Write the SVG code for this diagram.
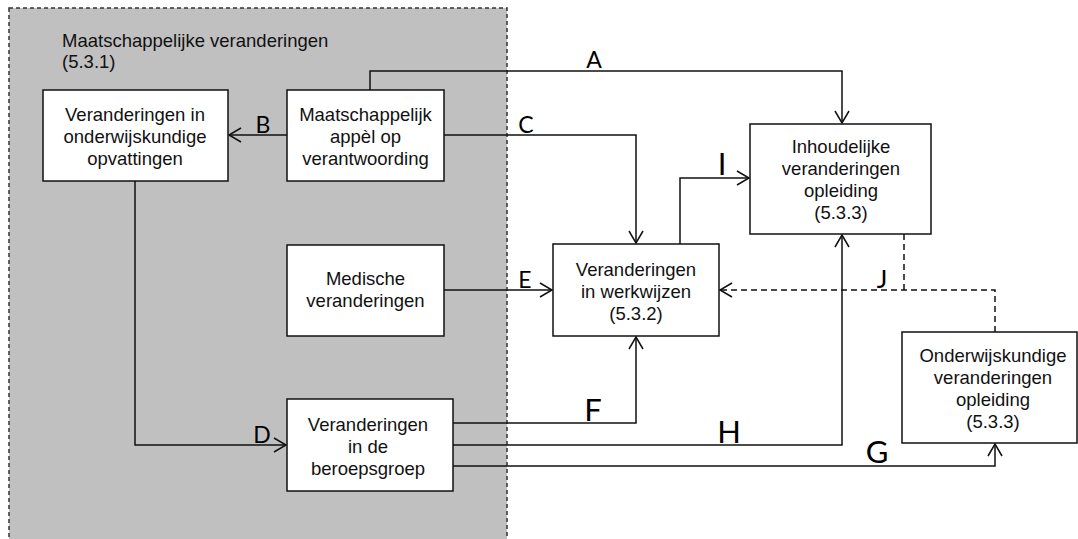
<svg xmlns="http://www.w3.org/2000/svg" width="1078" height="539" viewBox="0 0 1078 539">
<defs>
<style>
.box{fill:#fff;stroke:#111;stroke-width:1.5}
.t{font-family:"Liberation Sans",Arial,sans-serif;font-size:18.5px;fill:#111;text-anchor:middle}
.title{font-family:"Liberation Sans",Arial,sans-serif;font-size:18.5px;fill:#111}
.c{fill:none;stroke:#111;stroke-width:1.5}
.d{fill:none;stroke:#111;stroke-width:1.5;stroke-dasharray:6 4}
.lbl{font-family:Lato,"Open Sans",sans-serif;fill:#000;text-anchor:middle}
.s{font-size:23px}
.l{font-size:31px}
.m{font-size:25px}
</style>
<marker id="arr" markerUnits="userSpaceOnUse" markerWidth="16" markerHeight="18" refX="14" refY="9" orient="auto" viewBox="0 0 16 18">
<path d="M2,2 L14,9 L2,16" fill="none" stroke="#111" stroke-width="1.5"/>
</marker>
</defs>
<rect width="1078" height="539" fill="#fff"/>
<g id="group-maatschappelijk">
<rect x="9" y="8" width="498" height="540" fill="#c0c0c0" stroke="#333" stroke-width="1.5" stroke-dasharray="4 3"/>
<text class="title" x="62" y="47">Maatschappelijke veranderingen</text>
<text class="title" x="62" y="68">(5.3.1)</text>
</g>
<g id="connectors">
<path class="c" d="M370,90 V71 H842 V123" marker-end="url(#arr)"/>
<path class="c" d="M287,135 H229" marker-end="url(#arr)"/>
<path class="c" d="M444,135 H636 V243" marker-end="url(#arr)"/>
<path class="c" d="M135,181 V445 H286" marker-end="url(#arr)"/>
<path class="c" d="M444,290 H552" marker-end="url(#arr)"/>
<path class="c" d="M453,423 H636 V337" marker-end="url(#arr)"/>
<path class="c" d="M453,466 H995 V444" marker-end="url(#arr)"/>
<path class="c" d="M453,445 H842 V235" marker-end="url(#arr)"/>
<path class="c" d="M680,244 V178 H749" marker-end="url(#arr)"/>
<path class="d" d="M995,332 V290 H720" marker-end="url(#arr)"/>
<path class="d" d="M904,234 V290"/>
<text class="lbl s" x="594" y="68">A</text>
<text class="lbl s" x="263" y="133">B</text>
<text class="lbl s" x="526" y="133">C</text>
<text class="lbl s" x="262" y="443">D</text>
<text class="lbl s" x="525" y="288">E</text>
<text class="lbl l" x="593" y="421">F</text>
<text class="lbl l" x="877" y="463">G</text>
<text class="lbl l" x="729" y="443">H</text>
<text class="lbl l" x="722" y="175">I</text>
<text class="lbl m" x="882" y="288">J</text>
</g>
<g id="node-onderwijskundige-opvattingen">
<rect class="box" x="43" y="90" width="185" height="91"/>
<text class="t" x="135" y="121">Veranderingen in</text>
<text class="t" x="135" y="143">onderwijskundige</text>
<text class="t" x="135" y="165">opvattingen</text>
</g>
<g id="node-maatschappelijk-appel">
<rect class="box" x="287" y="90" width="157" height="91"/>
<text class="t" x="365.5" y="121">Maatschappelijk</text>
<text class="t" x="365.5" y="143">appèl op</text>
<text class="t" x="365.5" y="165">verantwoording</text>
</g>
<g id="node-medische">
<rect class="box" x="287" y="245" width="157" height="91"/>
<text class="t" x="365.5" y="285">Medische</text>
<text class="t" x="365.5" y="307">veranderingen</text>
</g>
<g id="node-beroepsgroep">
<rect class="box" x="287" y="399" width="166" height="92"/>
<text class="t" x="368" y="431">Veranderingen</text>
<text class="t" x="368" y="453">in de</text>
<text class="t" x="368" y="475">beroepsgroep</text>
</g>
<g id="node-werkwijzen">
<rect class="box" x="553" y="244" width="166" height="92"/>
<text class="t" x="636" y="276">Veranderingen</text>
<text class="t" x="636" y="298">in werkwijzen</text>
<text class="t" x="636" y="320">(5.3.2)</text>
</g>
<g id="node-inhoudelijke">
<rect class="box" x="750" y="124" width="181" height="110"/>
<text class="t" x="841" y="153">Inhoudelijke</text>
<text class="t" x="841" y="175">veranderingen</text>
<text class="t" x="841" y="197">opleiding</text>
<text class="t" x="841" y="219">(5.3.3)</text>
</g>
<g id="node-onderwijskundige-opleiding">
<rect class="box" x="902" y="332" width="175" height="111"/>
<text class="t" x="993" y="362">Onderwijskundige</text>
<text class="t" x="993" y="384">veranderingen</text>
<text class="t" x="993" y="406">opleiding</text>
<text class="t" x="993" y="428">(5.3.3)</text>
</g>
</svg>
